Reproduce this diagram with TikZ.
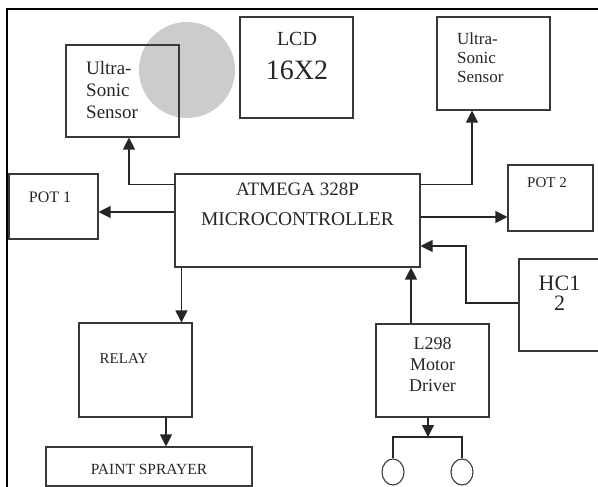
\documentclass[tikz,border=0pt]{standalone}
\usepackage{fontspec}
\setmainfont{Liberation Serif}
\usetikzlibrary{arrows.meta,shapes.geometric}
\tikzset{
  box/.style={draw=black!78, line width=1.1pt, rectangle, inner sep=0pt},
  txt/.style={inner sep=0pt, text=black!85},
  arr/.style={draw=black!85, line width=1.2pt, -{Triangle[length=12pt,width=12pt]}},
  wire/.style={draw=black!85, line width=1.2pt},
  motor/.style={draw=black!78, line width=1.1pt, ellipse, inner sep=0pt, minimum width=22pt, minimum height=26pt},
  frameline/.style={draw=black, line width=2pt}
}
\newcommand{\fs}[2]{\fontsize{#1}{#2}\selectfont}
\begin{document}
\begin{tikzpicture}[x=1pt,y=-1pt]
\useasboundingbox (0,0) rectangle (598,487);
% watermark
\fill[black!20] (187,70) circle (48);
% frame
\draw[frameline] (7,488) -- (7,9) -- (599,9);
% boxes
\node[box, minimum width=113, minimum height=92] (usl) at (122.5,91) {};
\node[box, minimum width=113, minimum height=101] (lcd) at (296.5,67.5) {};
\node[box, minimum width=113, minimum height=93] (usr) at (493.5,63.5) {};
\node[box, minimum width=245, minimum height=93] (mcu) at (297.5,220.5) {};
\node[box, minimum width=89, minimum height=65] (pot1) at (53.5,206.5) {};
\node[box, minimum width=85, minimum height=66] (pot2) at (550.5,198) {};
\node[box, minimum width=86, minimum height=92] (hc) at (562,305) {};
\node[box, minimum width=113, minimum height=93] (drv) at (432.5,370.5) {};
\node[box, minimum width=113, minimum height=94] (relay) at (135.5,370) {};
\node[box, minimum width=206, minimum height=39] (paint) at (149,466.5) {};
\node[motor] (m1) at (393,472) {};
\node[motor] (m2) at (462,472) {};
% texts
\node[txt, anchor=base west, align=left, font=\fs{19}{22}] (uslt) at (86,119) {Ultra-\\Sonic\\Sensor};
\node[txt, anchor=base, font=\fs{20}{24}] (lcdt1) at (297,46) {LCD};
\node[txt, anchor=base, font=\fs{28}{32}] (lcdt2) at (297,80) {16X2};
\node[txt, anchor=base west, align=left, font=\fs{17}{19}] (usrt) at (457,83) {Ultra-\\Sonic\\Sensor};
\node[txt, anchor=base, font=\fs{19}{23}] (mcut1) at (297.5,195) {ATMEGA 328P};
\node[txt, anchor=base, font=\fs{19.5}{23}] (mcut2) at (297.5,225) {MICROCONTROLLER};
\node[txt, anchor=base, font=\fs{16}{19}] (pot1t) at (50,202) {POT 1};
\node[txt, anchor=base, font=\fs{15}{18}] (pot2t) at (547,187) {POT 2};
\node[txt, anchor=base, align=center, font=\fs{22}{20}] (hct) at (559.5,310) {HC1\\2};
\node[txt, anchor=base, align=center, font=\fs{18}{21}] (drvt) at (432.5,391) {L298\\Motor\\Driver};
\node[txt, anchor=base, font=\fs{15}{18}] (relayt) at (124,363) {RELAY};
\node[txt, anchor=base, font=\fs{15.5}{18}] (paintt) at (149,474) {PAINT SPRAYER};
% helper coordinates
\coordinate (hcb1) at (466,303);
\coordinate (hcb2) at (466,246);
\coordinate (mj) at (428,437);
% connectors
\draw[arr] ([yshift=-11pt]mcu.north west) -| ([xshift=6.5pt]usl.south);
\draw[arr] ([yshift=-11pt]mcu.north east) -| ([xshift=-21.5pt]usr.south);
\draw[arr] ([yshift=8.5pt]mcu.west) -- ([yshift=8.5pt]mcu.west -| pot1.east);
\draw[arr] ([yshift=3.5pt]mcu.east) -- ([yshift=3.5pt]mcu.east -| pot2.west);
\draw[arr] (hc.west |- hcb1) -- (hcb1) -- (hcb2) -- (mcu.east |- hcb2);
\draw[arr] ([xshift=-21.5pt]drv.north) -- ([xshift=-21.5pt]drv.north |- mcu.south);
\draw[arr] ([xshift=7pt]mcu.south west) -- ([xshift=7pt]mcu.south west |- relay.north);
\draw[arr] ([xshift=30.5pt]relay.south) -- ([xshift=30.5pt]relay.south |- paint.north);
\draw[arr] (drv.south -| mj) -- (mj);
\draw[wire] (m1.north) |- (mj) -| (m2.north);
\end{tikzpicture}
\end{document}
